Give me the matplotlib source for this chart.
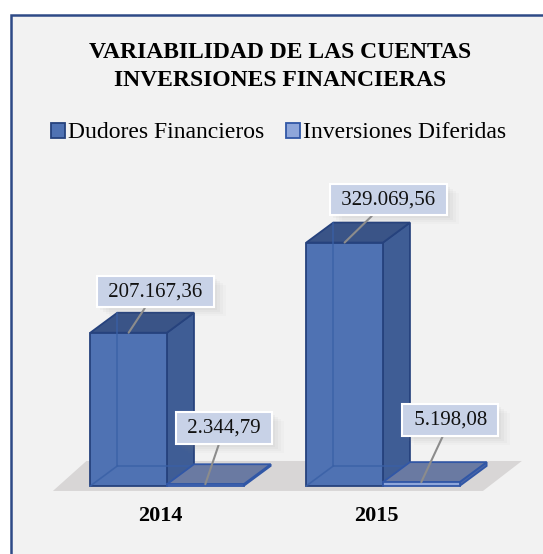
import matplotlib
matplotlib.use("Agg")
import matplotlib.pyplot as plt
from matplotlib.patches import Polygon, Rectangle, Patch
from matplotlib.transforms import IdentityTransform

plt.rcParams['font.family'] = ['Liberation Serif', 'DejaVu Serif']

# data
years = ['2014', '2015']
dudores = [207167.36, 329069.56]
inversiones = [2344.79, 5198.08]
series_names = ['Dudores Financieros', 'Inversiones Diferidas']
title_lines = ['VARIABILIDAD DE LAS CUENTAS', 'INVERSIONES FINANCIERAS']

# style
W = 0.355            # bar width (category units)
DX = 0.125           # 3d depth, x
DY = 27000           # 3d depth, y (value units)
D_FRONT, D_SIDE, D_TOP, D_EDGE = '#4F72B3', '#3F5D95', '#3A5487', '#26427D'
I_FRONT, I_SIDE, I_TOP, I_EDGE = '#8EA6DA', '#4A66A8', '#6A7AA2', '#3157A6'
BG = '#F2F2F2'

# label offsets (pixels) from the bar's top-front midpoint
d_offsets = [(27, 41), (44, 43)]
i_offsets = [(19, 56), (29, 62)]


def fmt(v):
    s = f"{v:,.2f}"
    return s.replace(',', '#').replace('.', ',').replace('#', '.')


def box3d(ax, x0, x1, h, front, side, top, edge, z):
    pts_side = [(x1, 0), (x1 + DX, DY), (x1 + DX, h + DY), (x1, h)]
    pts_top = [(x0, h), (x1, h), (x1 + DX, h + DY), (x0 + DX, h + DY)]
    pts_front = [(x0, 0), (x1, 0), (x1, h), (x0, h)]
    ax.add_patch(Polygon(pts_side, closed=True, fc=side, ec=edge, lw=1.3, zorder=z))
    ax.add_patch(Polygon(pts_top, closed=True, fc=top, ec=edge, lw=1.3, zorder=z))
    ax.add_patch(Polygon(pts_front, closed=True, fc=front, ec=edge, lw=1.3, zorder=z + 0.1))
    # hidden back edges seen through the box
    if h > DY:
        ax.plot([x0 + DX, x0 + DX, x1 + DX], [h + DY, DY, DY], color='#3960A6', lw=1.2, alpha=0.8, zorder=z + 0.2)
        ax.plot([x0, x0 + DX], [0, DY], color='#3960A6', lw=1.2, alpha=0.8, zorder=z + 0.2)


def label(ax, x, y, text, off):
    return ax.annotate(' ' + text + ' ', xy=(x, y), xytext=off, textcoords='offset pixels',
                       ha='center', va='center', fontsize=15, color='#111111', zorder=11,
                       bbox=dict(boxstyle='square,pad=0.3', fc='#C8D2E7', ec='white', lw=1.5),
                       arrowprops=dict(arrowstyle='-', color='#8C8C8C', lw=1.5, shrinkA=0, shrinkB=0))


fig = plt.figure(figsize=(5.43, 5.54), dpi=100, facecolor='white')

# outer frame
fig.add_artist(Rectangle((11 / 543, -0.05), 1.0, 1 - 15 / 554 + 0.05, transform=fig.transFigure,
                         fc=BG, ec='#2E4A87', lw=1.8, zorder=0))

ax = fig.add_axes([0, 0, 1, 1])
ax.set_xlim(-0.773, 1.741)
ax.set_ylim(-92000, 657000)
ax.axis('off')

# floor
fx0, fx1, fy = -0.528, 1.463, -6750
ax.add_patch(Polygon([(fx0, fy), (fx1, fy), (fx1 + 0.18, fy + 40500), (fx0 + 0.155, fy + 40500)],
                     closed=True, fc='#D8D6D6', ec='none', zorder=1))

for i, yr in enumerate(years):
    box3d(ax, i - W, i, dudores[i], D_FRONT, D_SIDE, D_TOP, D_EDGE, 2 + i * 2)
    box3d(ax, i, i + W, inversiones[i], I_FRONT, I_SIDE, I_TOP, I_EDGE, 3 + i * 2)
    ax.text(i - 0.03, -40500, yr, ha='center', va='center', fontsize=16, fontweight='bold')

anns = []
for i in range(len(years)):
    anns.append(label(ax, i - W / 2, dudores[i], fmt(dudores[i]), d_offsets[i]))
    anns.append(label(ax, i + W / 2, inversiones[i], fmt(inversiones[i]), i_offsets[i]))

# title
fig.text(0.516, 1 - 57.5 / 554, title_lines[0], ha='center', va='baseline', fontsize=17, fontweight='bold')
fig.text(0.516, 1 - 86 / 554, title_lines[1], ha='center', va='baseline', fontsize=17, fontweight='bold')

handles = [Patch(fc=D_FRONT, ec=D_EDGE, lw=1.3), Patch(fc=I_FRONT, ec=I_EDGE, lw=1.3)]
fig.legend(handles, series_names, loc='center', bbox_to_anchor=(0.513, 1 - 133 / 554), ncol=2,
           frameon=False, fontsize=17, handlelength=0.6, handleheight=0.6,
           handletextpad=0.12, columnspacing=0.9, borderaxespad=0)

# soft shadows behind the label boxes
fig.canvas.draw()
renderer = fig.canvas.get_renderer()
for ann in anns:
    bb = ann.get_bbox_patch().get_window_extent(renderer)
    for sx, sy, a in [(3, -3, 0.06), (6, -5, 0.05), (9, -7, 0.04), (12, -9, 0.03)]:
        ax.add_patch(Rectangle((bb.x0 + sx, bb.y0 + sy), bb.width, bb.height, transform=IdentityTransform(),
                               fc='#7F7F7F', ec='none', alpha=a, zorder=10))

fig.savefig('out.png', dpi=100, facecolor='white')
